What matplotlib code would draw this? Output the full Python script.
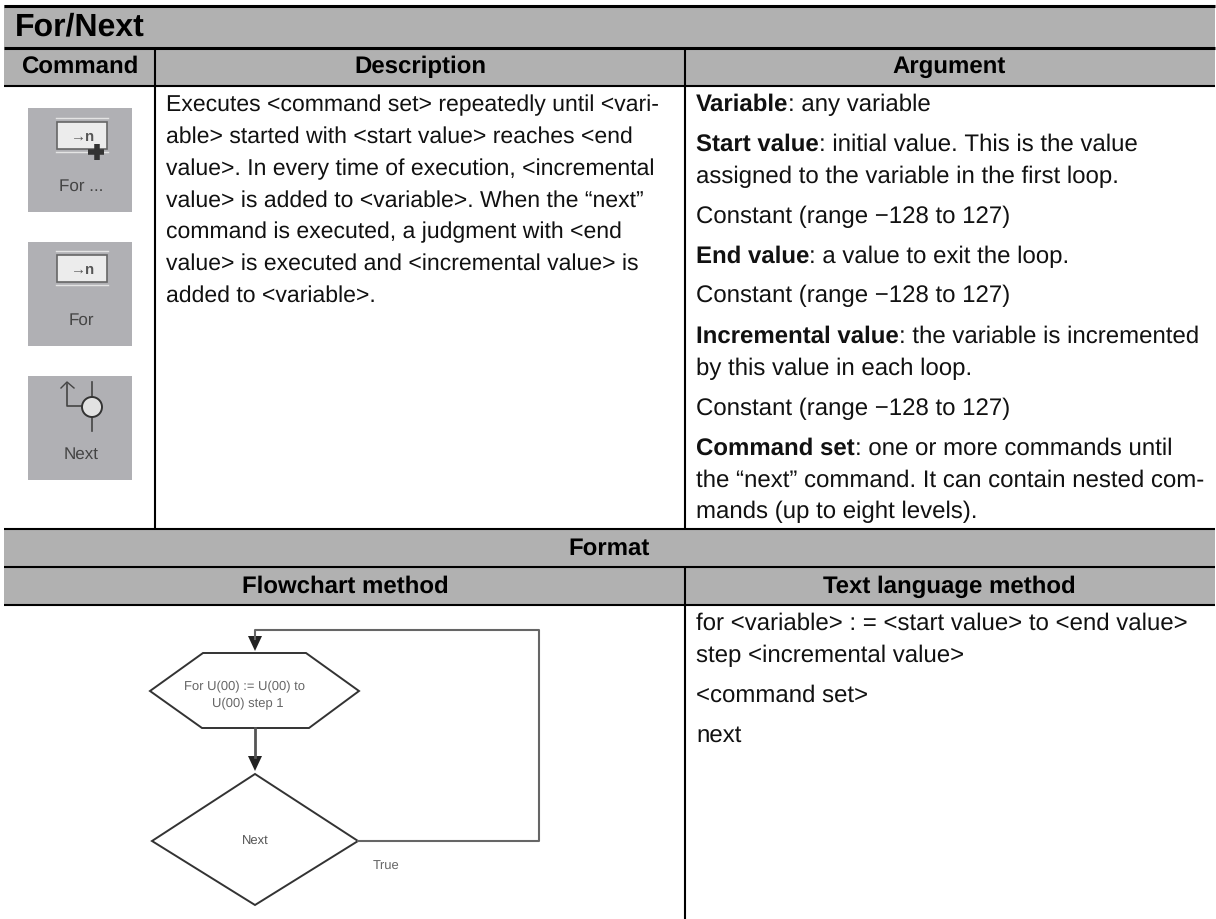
#!/usr/bin/env python

import matplotlib
matplotlib.use("Agg")
import matplotlib.pyplot as plt
from matplotlib.patches import Circle, Polygon, Rectangle

plt.rcParams['font.family'] = ['Liberation Sans', 'DejaVu Sans']
plt.rcParams['text.hinting'] = 'none'
plt.rcParams['text.hinting_factor'] = 1

# text of the table
title = "For/Next"
col_heads = ["Command", "Description", "Argument"]
format_head = "Format"
format_cols = ["Flowchart method", "Text language method"]
icon_labels = ["For ...", "For", "Next"]

description = [
    "Executes <command set> repeatedly until <vari-",
    "able> started with <start value> reaches <end",
    "value>. In every time of execution, <incremental",
    "value> is added to <variable>. When the \u201cnext\u201d",
    "command is executed, a judgment with <end",
    "value> is executed and <incremental value> is",
    "added to <variable>.",
]
desc_base = [111, 143, 175, 207, 238, 270, 302]

arg_bold = ["Variable", "Start value", "", "", "End value", "", "Incremental value", "", "", "Command set", "", ""]
arg_rest = [
    ": any variable",
    ": initial value. This is the value",
    "assigned to the variable in the first loop.",
    "Constant (range \u2212128 to 127)",
    ": a value to exit the loop.",
    "Constant (range \u2212128 to 127)",
    ": the variable is incremented",
    "by this value in each loop.",
    "Constant (range \u2212128 to 127)",
    ": one or more commands until",
    "the \u201cnext\u201d command. It can contain nested com-",
    "mands (up to eight levels).",
]
arg_base = [111, 151, 183, 223, 263, 302, 343, 375, 415, 455, 487, 518]

code_lines = [
    "for <variable> : = <start value> to <end value>",
    "step <incremental value>",
    "<command set>",
    "next",
]
code_base = [630, 662, 702, 742]

band = '#b1b1b1'
body = 16.6
body_right = 17.2
head = 17.2

fig = plt.figure(figsize=(12.16, 9.2), dpi=100)
ax = fig.add_axes([0, 0, 1, 1])
ax.set_xlim(0, 1216)
ax.set_ylim(920, 0)
ax.axis('off')

# grey bands
for y0, y1 in [(6, 48), (48, 87), (530, 568), (568, 606)]:
    ax.add_patch(Rectangle((4, y0), 1211, y1 - y0, fc=band, ec='none'))

# rules
for y, lw in [(6.5, 2.2), (48.5, 2.2), (86.5, 1.5), (530, 1.5), (568, 1.5), (606, 1.5)]:
    ax.plot([4, 1215], [y, y], color='black', lw=lw, solid_capstyle='butt')
ax.plot([155, 155], [48, 530], color='black', lw=1.5, solid_capstyle='butt')
ax.plot([685, 685], [48, 530], color='black', lw=1.5, solid_capstyle='butt')
ax.plot([685, 685], [568, 920], color='black', lw=1.5, solid_capstyle='butt')

# headers
ax.text(15, 35, title, fontsize=23, fontweight='bold', va='baseline')
for s, x in zip(col_heads, [80, 420, 949]):
    ax.text(x, 73, s, fontsize=head, fontweight='bold', ha='center', va='baseline')
ax.text(609, 555, format_head, fontsize=head, fontweight='bold', ha='center', va='baseline')
ax.text(345, 593, format_cols[0], fontsize=head, fontweight='bold', ha='center', va='baseline')
ax.text(949, 593, format_cols[1], fontsize=head, fontweight='bold', ha='center', va='baseline')

# body text
for s, y in zip(description, desc_base):
    ax.text(166, y, s, fontsize=body, color='#111111', va='baseline')

rend = fig.canvas.get_renderer()
for b, s, y in zip(arg_bold, arg_rest, arg_base):
    x = 696
    if b:
        t = ax.text(x, y, b, fontsize=body_right, fontweight='bold', color='#111111', va='baseline')
        x += t.get_window_extent(rend).width
    ax.text(x, y, s, fontsize=body_right, color='#111111', va='baseline')

for s, y in zip(code_lines, code_base):
    ax.text(696, y, s, fontsize=body_right, color='#111111', va='baseline')

# command icons
for y0, lab in zip([109, 243, 377], icon_labels):
    ax.add_patch(Rectangle((28, y0), 104, 104, fc='#b0b0b4', ec='none'))
    ax.text(81, y0 + 82, lab, fontsize=12.5, color='#444444', ha='center', va='baseline')

for y0 in [123, 256]:
    ax.add_patch(Rectangle((57, y0), 50, 27, fc='#ececec', ec='#666666', lw=1.2))
    ax.plot([56, 108], [y0 - 4, y0 - 4], color='#e4e4e4', lw=1)
    ax.plot([56, 108], [y0 + 30, y0 + 30], color='#e4e4e4', lw=1)
    ax.text(83, y0 + 14, "\u2192n", fontsize=10.5, fontweight='bold', color='#555555', ha='center', va='center')
ax.plot([97, 97], [145, 161], color='#333333', lw=4, solid_capstyle='butt')
ax.plot([88, 104], [153, 153], color='#333333', lw=4, solid_capstyle='butt')

ax.plot([92, 92], [383, 432], color='#444444', lw=1.2)
ax.plot([82, 67, 67], [407, 407, 385], color='#444444', lw=1.2)
ax.plot([61, 67, 74], [389, 383, 389], color='#444444', lw=1)
ax.add_patch(Circle((92, 408), 10, fc='#e2e2e2', ec='#333333', lw=1.4, zorder=3))

# flowchart
hex_x = [150, 203, 306, 359, 309, 202]
hex_y = [692, 654, 654, 692, 729, 729]
dia_x = [152, 255, 358, 255]
dia_y = [842, 775, 842, 906]
ax.add_patch(Polygon(list(zip(hex_x, hex_y)), closed=True, fc='white', ec='#333333', lw=1.4))
ax.add_patch(Polygon(list(zip(dia_x, dia_y)), closed=True, fc='white', ec='#333333', lw=1.4))
ax.plot([358, 539, 539, 255, 255], [842, 842, 631, 631, 640], color='#666666', lw=1.5)
ax.plot([255, 255], [729, 758], color='#555555', lw=2)
for y in [637, 757]:
    ax.add_patch(Polygon([(248, y), (262, y), (255, y + 15)], closed=True, fc='#222222', ec='none'))
ax.text(245, 690, "For U(00) := U(00) to", fontsize=9.7, color='#666666', ha='center', va='baseline')
ax.text(248, 707, "U(00) step 1", fontsize=9.7, color='#666666', ha='center', va='baseline')
ax.text(255, 842, "Next", fontsize=9.7, color='#555555', ha='center', va='center')
ax.text(386, 867, "True", fontsize=9.7, color='#666666', ha='center', va='center')

fig.savefig("out.png", dpi=100)
